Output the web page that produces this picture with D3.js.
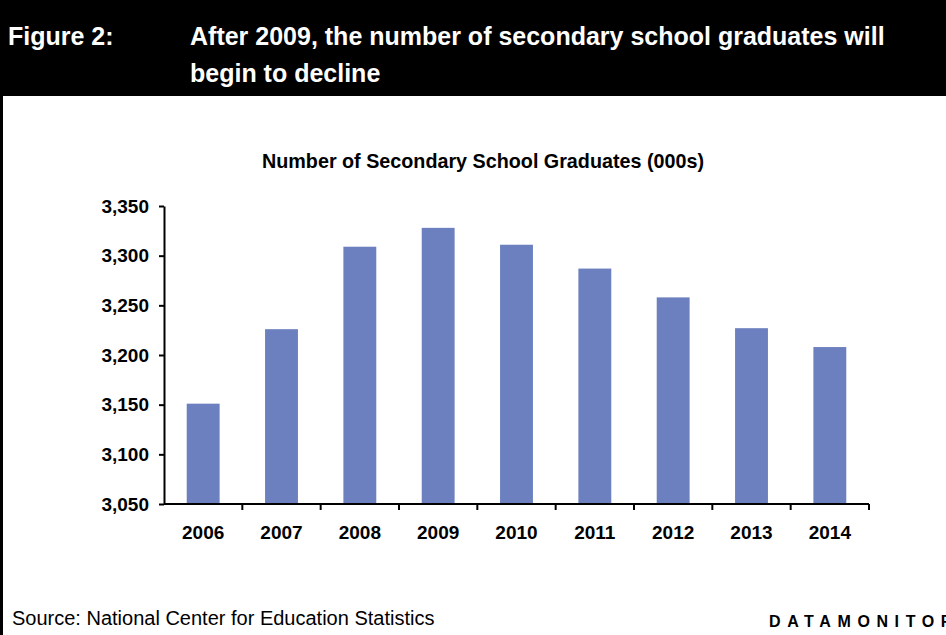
<!DOCTYPE html>
<html><head><meta charset="utf-8">
<script src="https://cdn.jsdelivr.net/npm/d3@7"></script>
<style>html,body{margin:0;padding:0;background:#fff;}svg{display:block;font-family:"Liberation Sans",Arial,sans-serif;}</style>
</head><body>
<script>
const years = ["2006","2007","2008","2009","2010","2011","2012","2013","2014"];
const graduates = [3151, 3226, 3309, 3328, 3311, 3287, 3258, 3227, 3208];
const yTicks = [3050, 3100, 3150, 3200, 3250, 3300, 3350];

const W = 946, H = 635;
const svg = d3.select("body").append("svg").attr("width", W).attr("height", H);

// header band
svg.append("rect").attr("x",0).attr("y",0).attr("width",W).attr("height",96).attr("fill","#000");
svg.append("rect").attr("x",0).attr("y",96).attr("width",3).attr("height",H-96).attr("fill","#000");
svg.append("text").attr("x",8).attr("y",45).attr("fill","#fff").attr("font-size",25).attr("font-weight","bold").text("Figure 2:");
svg.append("text").attr("x",190).attr("y",45).attr("fill","#fff").attr("font-size",25).attr("font-weight","bold").text("After 2009, the number of secondary school graduates will");
svg.append("text").attr("x",190).attr("y",82).attr("fill","#fff").attr("font-size",25).attr("font-weight","bold").text("begin to decline");

svg.append("text").attr("x",262).attr("y",168).attr("font-size",21).attr("font-weight","bold")
  .attr("textLength",442).attr("lengthAdjust","spacingAndGlyphs").text("Number of Secondary School Graduates (000s)");

const x = d3.scaleBand().domain(years).range([164, 869]).paddingInner(0.58).paddingOuter(0.29);
const y = d3.scaleLinear().domain([3050, 3350]).range([504, 206]);

svg.append("g").selectAll("rect").data(years).join("rect")
  .attr("x", d => x(d)).attr("width", x.bandwidth())
  .attr("y", (d,i) => y(graduates[i])).attr("height", (d,i) => y(3050) - y(graduates[i]))
  .attr("fill", "#6C80BF");

const yAxis = svg.append("g").attr("transform","translate(164,0)")
  .call(d3.axisLeft(y).tickValues(yTicks).tickFormat(d3.format(",")).tickSize(5).tickSizeOuter(0));
yAxis.selectAll("text").attr("font-size",19).attr("font-weight","bold").attr("fill","#000").attr("font-family","Liberation Sans, Arial, sans-serif").attr("dx","-7");
yAxis.selectAll("line,path").attr("stroke","#000").attr("stroke-width",2);

const xBoundary = d3.scaleLinear().domain([0, years.length]).range([164, 869]);
const xAxis = svg.append("g").attr("transform","translate(0,504)");
xAxis.append("line").attr("x1",164).attr("x2",869).attr("stroke","#000").attr("stroke-width",2);
xAxis.selectAll("line.tk").data(d3.range(1, years.length+1)).join("line").attr("class","tk")
  .attr("x1", d => xBoundary(d)).attr("x2", d => xBoundary(d)).attr("y1",0).attr("y2",6).attr("stroke","#000").attr("stroke-width",2);
xAxis.selectAll("text").data(years).join("text")
  .attr("x", d => x(d) + x.bandwidth()/2).attr("y", 35).attr("text-anchor","middle")
  .attr("font-size",19).attr("font-weight","bold").text(d => d);

svg.append("text").attr("x",12).attr("y",625).attr("font-size",20).text("Source: National Center for Education Statistics");
svg.append("text").attr("x",769).attr("y",627).attr("font-size",16).attr("font-weight","bold").attr("letter-spacing","6.6").text("DATAMONITOR");
</script>
</body></html>
